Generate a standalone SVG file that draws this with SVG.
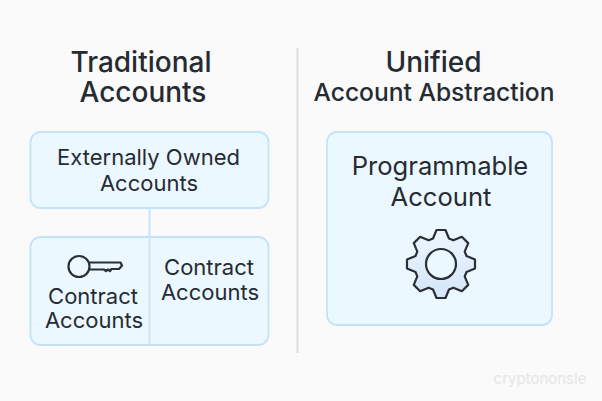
<svg xmlns="http://www.w3.org/2000/svg" width="602" height="401" viewBox="0 0 602 401">
<style>
text{font-family:"Inter","Liberation Sans",sans-serif;fill:#262b33;text-anchor:middle}
.t{font-size:28px;font-weight:500}
.t2{font-size:24.600px;font-weight:500}
.l{font-size:22px}
.m{font-size:25.600px}
.box{fill:#ecf8ff;stroke:#c4e2fa;stroke-width:1.800}
.ln{stroke:#c4e2fa;stroke-width:1.800;fill:none}
.ic{fill:none;stroke:#2a2f36;stroke-width:2.200;stroke-linejoin:round}
</style>
<defs><linearGradient id="g" x1="0" y1="0" x2="0" y2="1"><stop offset="0" stop-color="#edf6fe"/><stop offset="1" stop-color="#d3e6f9"/></linearGradient></defs>
<rect width="602" height="401" fill="#fafafa"/>
<line x1="297.500" y1="48" x2="297.500" y2="353" stroke="#dcdcdc" stroke-width="2"/>
<g id="title-left"><text class="t" x="141" y="72">Traditional</text><text class="t" x="143" y="102">Accounts</text></g>
<g id="title-right"><text class="t" x="433.500" y="72">Unified</text><text class="t2" x="434" y="101">Account Abstraction</text></g>
<g id="connectors"><line class="ln" x1="149.500" y1="208" x2="149.500" y2="237"/></g>
<g id="eoa"><rect class="box" x="30.500" y="132" width="238" height="76" rx="10"/><text class="l" x="148.500" y="165">Externally Owned</text><text class="l" x="149" y="191">Accounts</text></g>
<g id="contracts"><rect class="box" x="30.500" y="237" width="238" height="108" rx="10"/><line class="ln" x1="149.500" y1="237" x2="149.500" y2="345"/></g>
<g id="key"><path class="ic" d="M87.500 262.500H120.500L122 265.500L119 269H111.500L110 271L108 269.500L106 271L104 269.500H87.500"/><circle cx="79" cy="266.500" r="10.500" fill="#ecf8ff" stroke="#2a2f36" stroke-width="2.200"/></g>
<g id="contract-a"><text class="l" x="93" y="304">Contract</text><text class="l" x="94" y="328">Accounts</text></g>
<g id="contract-b"><text class="l" x="209" y="275">Contract</text><text class="l" x="210" y="300">Accounts</text></g>
<g id="programmable"><rect class="box" x="327" y="132" width="225" height="193" rx="10"/><text class="m" x="440" y="175">Programmable</text><text class="m" x="441" y="206">Account</text></g>
<g id="gear"><path d="M433 238.500L436.500 230H445.500L449 238.500L453.370 240.310L461.860 236.780L468.220 243.140L464.690 251.630L466.500 256L475 259.500V268.500L466.500 272L464.690 276.370L468.220 284.860L461.860 291.220L453.370 287.690L449 289.500L445.500 298H436.500L433 289.500L428.630 287.690L420.140 291.220L413.780 284.860L417.310 276.370L415.500 272L407 268.500V259.500L415.500 256L417.310 251.630L413.780 243.140L420.140 236.780L428.630 240.310Z" fill="url(#g)" stroke="#2a2f36" stroke-width="2.200" stroke-linejoin="round"/><circle cx="441" cy="264" r="15" fill="#ecf8ff" stroke="#2a2f36" stroke-width="2.200"/></g>
<text x="540" y="384" style="font-size:15px;fill:#e6e6e6">cryptononsle</text>
</svg>
